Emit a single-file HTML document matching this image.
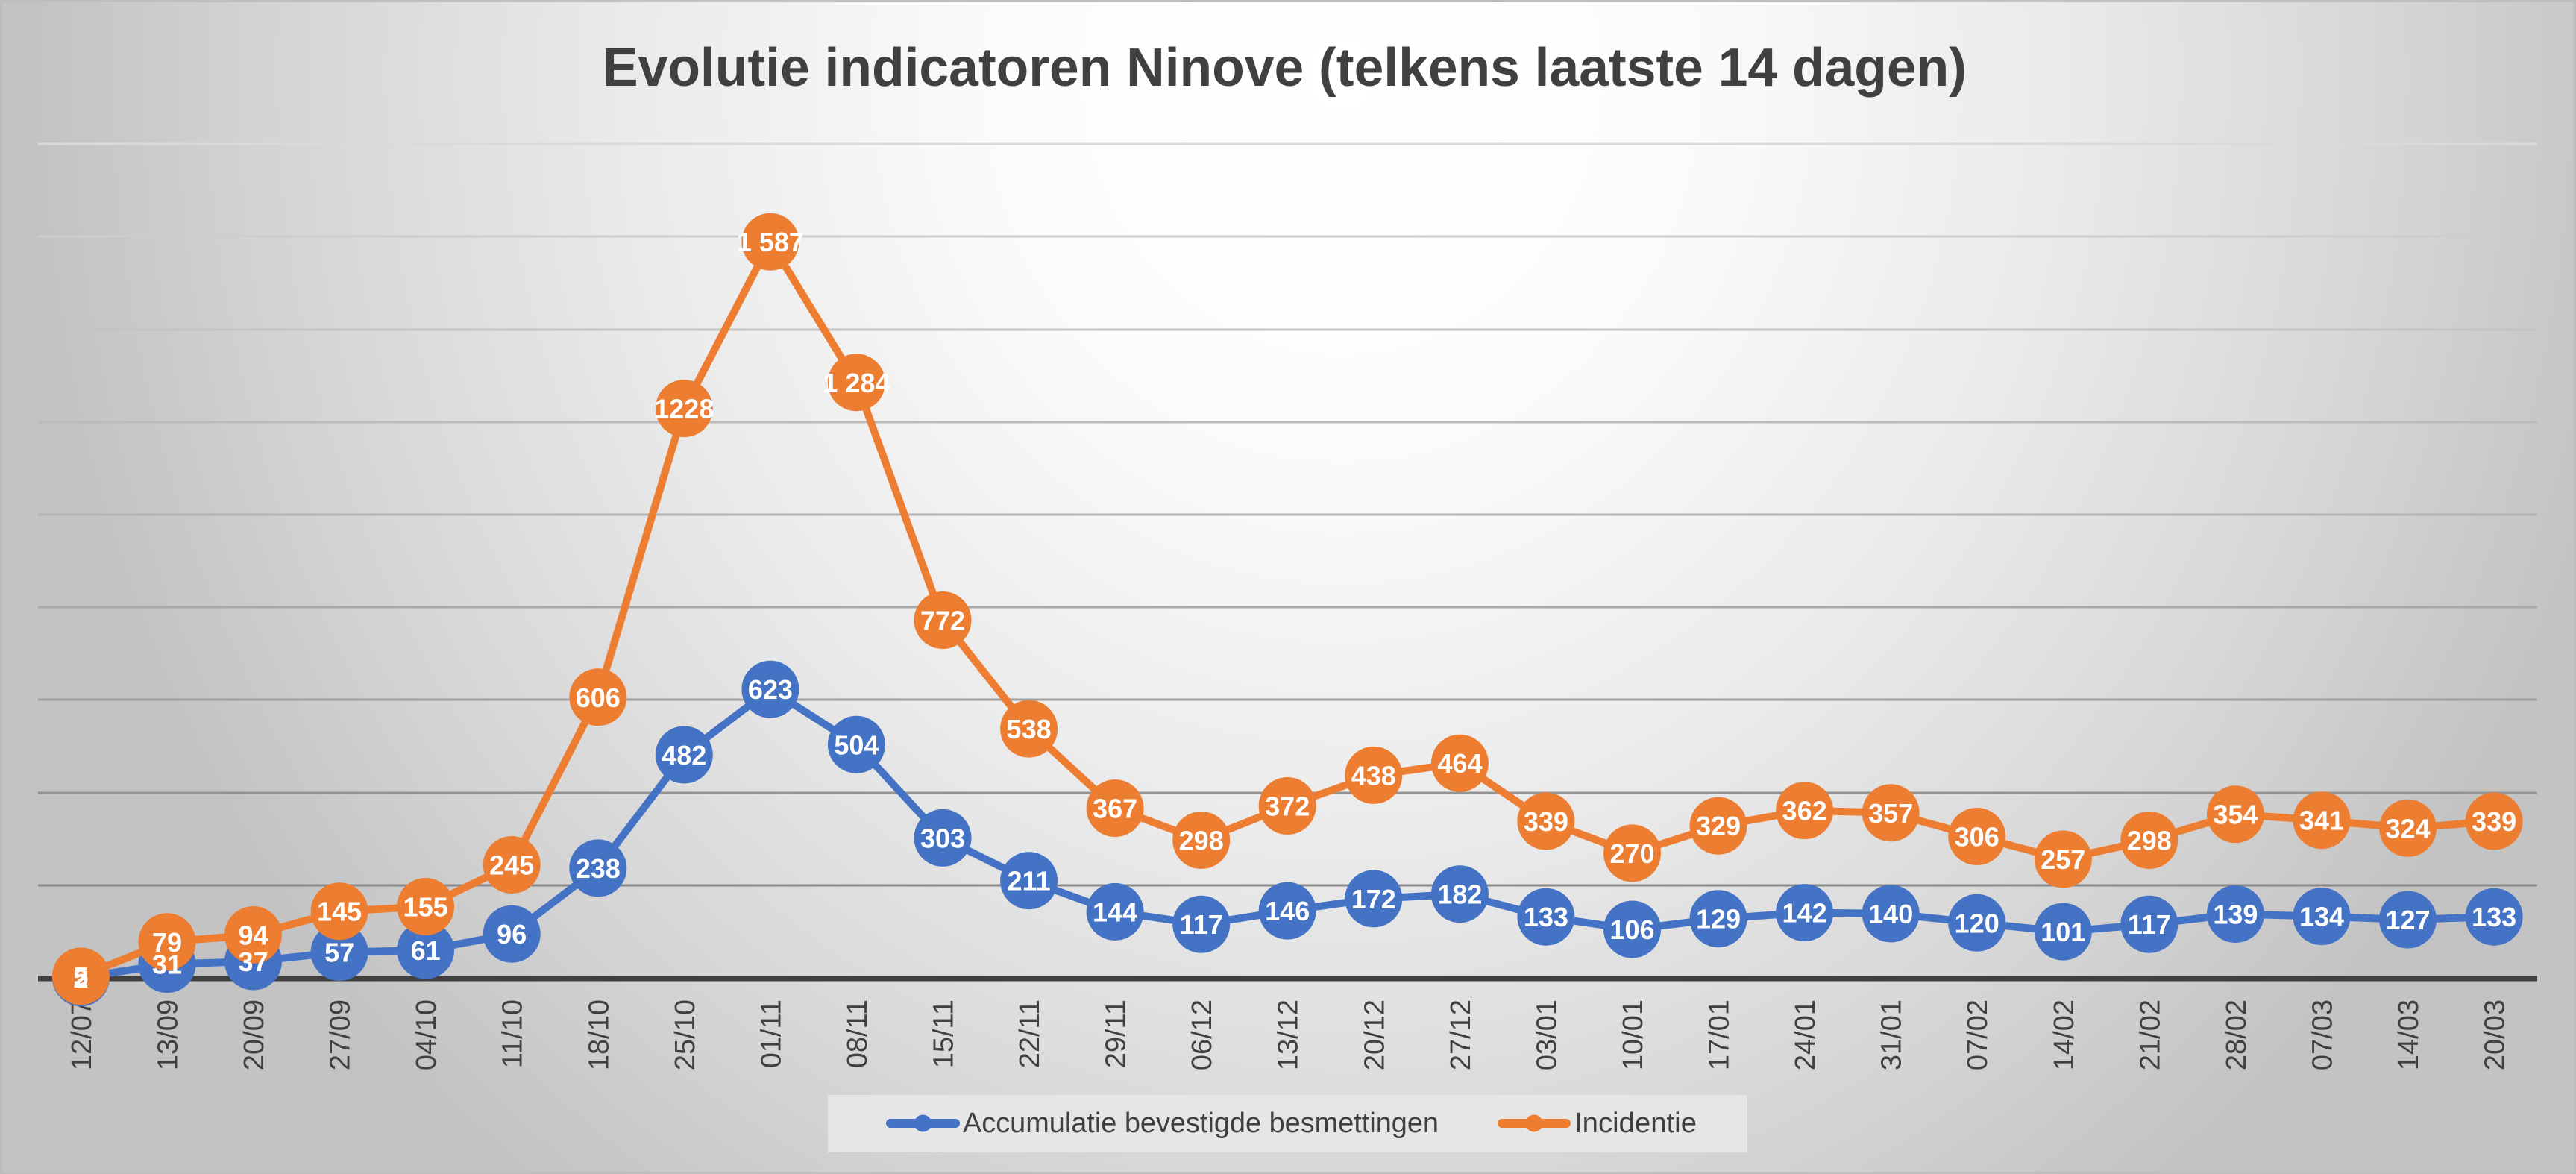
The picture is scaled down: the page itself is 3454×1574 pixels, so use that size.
<!DOCTYPE html>
<html><head><meta charset="utf-8"><style>
html,body{margin:0;padding:0;width:3454px;height:1574px;overflow:hidden;background:#e0e0e0}
svg{display:block}
</style></head><body>
<svg width="3454" height="1574" viewBox="0 0 3454 1574" xmlns="http://www.w3.org/2000/svg">
<defs>
<radialGradient id="bg" gradientUnits="userSpaceOnUse" cx="1800" cy="100" r="1750" gradientTransform="translate(1800,100) scale(1,1.08) translate(-1800,-100)">
<stop offset="0" stop-color="#ffffff"/>
<stop offset="0.25" stop-color="#fcfcfc"/>
<stop offset="0.55" stop-color="#eaeaea"/>
<stop offset="0.8" stop-color="#d6d6d6"/>
<stop offset="1" stop-color="#c3c3c3"/>
</radialGradient>
</defs>
<rect x="0" y="0" width="3454" height="1574" fill="url(#bg)"/>
<rect x="1.5" y="1.5" width="3451" height="1571" fill="none" stroke="#bdbdbd" stroke-width="3"/>

<text x="808" y="115" font-family="Liberation Sans, sans-serif" font-weight="bold" font-size="72" fill="#404040" textLength="1829" lengthAdjust="spacingAndGlyphs">Evolutie indicatoren Ninove (telkens laatste 14 dagen)</text>

<g stroke-width="3">
<line x1="51" y1="193" x2="3402" y2="193" stroke="#dadada"/>
<line x1="51" y1="317" x2="3402" y2="317" stroke="#cdcdcd"/>
<line x1="51" y1="442" x2="3402" y2="442" stroke="#c3c3c3"/>
<line x1="51" y1="566" x2="3402" y2="566" stroke="#bbbbbb"/>
<line x1="51" y1="690" x2="3402" y2="690" stroke="#b2b2b2"/>
<line x1="51" y1="814" x2="3402" y2="814" stroke="#a8a8a8"/>
<line x1="51" y1="938" x2="3402" y2="938" stroke="#9e9e9e"/>
<line x1="51" y1="1063" x2="3402" y2="1063" stroke="#939393"/>
<line x1="51" y1="1187" x2="3402" y2="1187" stroke="#898989"/>
</g>
<line x1="51" y1="1312" x2="3402" y2="1312" stroke="#404040" stroke-width="7"/>

<g font-family="Liberation Sans, sans-serif" font-size="38" fill="#404040" text-anchor="end">
<text transform="translate(121.9,1340) rotate(-90)">12/07</text>
<text transform="translate(237.5,1340) rotate(-90)">13/09</text>
<text transform="translate(353,1340) rotate(-90)">20/09</text>
<text transform="translate(468.6,1340) rotate(-90)">27/09</text>
<text transform="translate(584.1,1340) rotate(-90)">04/10</text>
<text transform="translate(699.7,1340) rotate(-90)">11/10</text>
<text transform="translate(815.3,1340) rotate(-90)">18/10</text>
<text transform="translate(930.8,1340) rotate(-90)">25/10</text>
<text transform="translate(1046.4,1340) rotate(-90)">01/11</text>
<text transform="translate(1161.9,1340) rotate(-90)">08/11</text>
<text transform="translate(1277.5,1340) rotate(-90)">15/11</text>
<text transform="translate(1393.1,1340) rotate(-90)">22/11</text>
<text transform="translate(1508.6,1340) rotate(-90)">29/11</text>
<text transform="translate(1624.2,1340) rotate(-90)">06/12</text>
<text transform="translate(1739.7,1340) rotate(-90)">13/12</text>
<text transform="translate(1855.3,1340) rotate(-90)">20/12</text>
<text transform="translate(1970.9,1340) rotate(-90)">27/12</text>
<text transform="translate(2086.4,1340) rotate(-90)">03/01</text>
<text transform="translate(2202,1340) rotate(-90)">10/01</text>
<text transform="translate(2317.5,1340) rotate(-90)">17/01</text>
<text transform="translate(2433.1,1340) rotate(-90)">24/01</text>
<text transform="translate(2548.7,1340) rotate(-90)">31/01</text>
<text transform="translate(2664.2,1340) rotate(-90)">07/02</text>
<text transform="translate(2779.8,1340) rotate(-90)">14/02</text>
<text transform="translate(2895.3,1340) rotate(-90)">21/02</text>
<text transform="translate(3010.9,1340) rotate(-90)">28/02</text>
<text transform="translate(3126.5,1340) rotate(-90)">07/03</text>
<text transform="translate(3242,1340) rotate(-90)">14/03</text>
<text transform="translate(3357.6,1340) rotate(-90)">20/03</text>
</g>

<!-- Blue series -->
<polyline fill="none" stroke="#4472c4" stroke-width="10" stroke-linejoin="round" points="108.4,1310.8 224,1292.7 339.5,1289 455.1,1276.5 570.6,1274 686.2,1252.2 801.8,1163.9 917.3,1012 1032.9,924.2 1148.4,998.3 1264,1123.4 1379.6,1180.7 1495.1,1222.4 1610.7,1239.2 1726.2,1221.1 1841.8,1204.9 1957.4,1198.7 2072.9,1229.2 2188.5,1246 2304,1231.7 2419.6,1223.6 2535.2,1224.9 2650.7,1237.3 2766.3,1249.1 2881.8,1239.2 2997.4,1225.5 3113,1228.6 3228.5,1233 3344.1,1229.2"/>
<g fill="#4472c4">
<circle cx="108.4" cy="1310.8" r="38.5"/><circle cx="224" cy="1292.7" r="38.5"/><circle cx="339.5" cy="1289" r="38.5"/><circle cx="455.1" cy="1276.5" r="38.5"/><circle cx="570.6" cy="1274" r="38.5"/><circle cx="686.2" cy="1252.2" r="38.5"/><circle cx="801.8" cy="1163.9" r="38.5"/><circle cx="917.3" cy="1012" r="38.5"/><circle cx="1032.9" cy="924.2" r="38.5"/><circle cx="1148.4" cy="998.3" r="38.5"/><circle cx="1264" cy="1123.4" r="38.5"/><circle cx="1379.6" cy="1180.7" r="38.5"/><circle cx="1495.1" cy="1222.4" r="38.5"/><circle cx="1610.7" cy="1239.2" r="38.5"/><circle cx="1726.2" cy="1221.1" r="38.5"/><circle cx="1841.8" cy="1204.9" r="38.5"/><circle cx="1957.4" cy="1198.7" r="38.5"/><circle cx="2072.9" cy="1229.2" r="38.5"/><circle cx="2188.5" cy="1246" r="38.5"/><circle cx="2304" cy="1231.7" r="38.5"/><circle cx="2419.6" cy="1223.6" r="38.5"/><circle cx="2535.2" cy="1224.9" r="38.5"/><circle cx="2650.7" cy="1237.3" r="38.5"/><circle cx="2766.3" cy="1249.1" r="38.5"/><circle cx="2881.8" cy="1239.2" r="38.5"/><circle cx="2997.4" cy="1225.5" r="38.5"/><circle cx="3113" cy="1228.6" r="38.5"/><circle cx="3228.5" cy="1233" r="38.5"/><circle cx="3344.1" cy="1229.2" r="38.5"/>
</g>

<!-- Orange series -->
<polyline fill="none" stroke="#ed7d31" stroke-width="10" stroke-linejoin="round" points="108.4,1308.9 224,1262.8 339.5,1253.5 455.1,1221.7 570.6,1215.5 686.2,1159.5 801.8,934.8 917.3,547.6 1032.9,324.2 1148.4,512.8 1264,831.5 1379.6,977.1 1495.1,1083.6 1610.7,1126.5 1726.2,1080.5 1841.8,1039.4 1957.4,1023.2 2072.9,1101 2188.5,1143.9 2304,1107.2 2419.6,1086.7 2535.2,1089.8 2650.7,1121.5 2766.3,1152 2881.8,1126.5 2997.4,1091.7 3113,1099.7 3228.5,1110.3 3344.1,1101"/>
<g fill="#ed7d31">
<circle cx="108.4" cy="1308.9" r="38.5"/><circle cx="224" cy="1262.8" r="38.5"/><circle cx="339.5" cy="1253.5" r="38.5"/><circle cx="455.1" cy="1221.7" r="38.5"/><circle cx="570.6" cy="1215.5" r="38.5"/><circle cx="686.2" cy="1159.5" r="38.5"/><circle cx="801.8" cy="934.8" r="38.5"/><circle cx="917.3" cy="547.6" r="38.5"/><circle cx="1032.9" cy="324.2" r="38.5"/><circle cx="1148.4" cy="512.8" r="38.5"/><circle cx="1264" cy="831.5" r="38.5"/><circle cx="1379.6" cy="977.1" r="38.5"/><circle cx="1495.1" cy="1083.6" r="38.5"/><circle cx="1610.7" cy="1126.5" r="38.5"/><circle cx="1726.2" cy="1080.5" r="38.5"/><circle cx="1841.8" cy="1039.4" r="38.5"/><circle cx="1957.4" cy="1023.2" r="38.5"/><circle cx="2072.9" cy="1101" r="38.5"/><circle cx="2188.5" cy="1143.9" r="38.5"/><circle cx="2304" cy="1107.2" r="38.5"/><circle cx="2419.6" cy="1086.7" r="38.5"/><circle cx="2535.2" cy="1089.8" r="38.5"/><circle cx="2650.7" cy="1121.5" r="38.5"/><circle cx="2766.3" cy="1152" r="38.5"/><circle cx="2881.8" cy="1126.5" r="38.5"/><circle cx="2997.4" cy="1091.7" r="38.5"/><circle cx="3113" cy="1099.7" r="38.5"/><circle cx="3228.5" cy="1110.3" r="38.5"/><circle cx="3344.1" cy="1101" r="38.5"/>
</g>

<!-- Data labels -->
<g font-family="Liberation Sans, sans-serif" font-weight="bold" font-size="36" fill="#ffffff" text-anchor="middle">
<text x="108.4" y="1323.8">2</text><text x="224" y="1305.7">31</text><text x="339.5" y="1302">37</text><text x="455.1" y="1289.5">57</text><text x="570.6" y="1287">61</text><text x="686.2" y="1265.2">96</text><text x="801.8" y="1176.9">238</text><text x="917.3" y="1025">482</text><text x="1032.9" y="937.2">623</text><text x="1148.4" y="1011.3">504</text><text x="1264" y="1136.4">303</text><text x="1379.6" y="1193.7">211</text><text x="1495.1" y="1235.4">144</text><text x="1610.7" y="1252.2">117</text><text x="1726.2" y="1234.1">146</text><text x="1841.8" y="1217.9">172</text><text x="1957.4" y="1211.7">182</text><text x="2072.9" y="1242.2">133</text><text x="2188.5" y="1259">106</text><text x="2304" y="1244.7">129</text><text x="2419.6" y="1236.6">142</text><text x="2535.2" y="1237.9">140</text><text x="2650.7" y="1250.3">120</text><text x="2766.3" y="1262.1">101</text><text x="2881.8" y="1252.2">117</text><text x="2997.4" y="1238.5">139</text><text x="3113" y="1241.6">134</text><text x="3228.5" y="1246">127</text><text x="3344.1" y="1242.2">133</text>
<text x="108.4" y="1321.9">5</text><text x="224" y="1275.8">79</text><text x="339.5" y="1266.5">94</text><text x="455.1" y="1234.7">145</text><text x="570.6" y="1228.5">155</text><text x="686.2" y="1172.5">245</text><text x="801.8" y="947.8">606</text><text x="917.3" y="560.6">1228</text><text x="1032.9" y="337.2">1 587</text><text x="1148.4" y="525.8">1 284</text><text x="1264" y="844.5">772</text><text x="1379.6" y="990.1">538</text><text x="1495.1" y="1096.6">367</text><text x="1610.7" y="1139.5">298</text><text x="1726.2" y="1093.5">372</text><text x="1841.8" y="1052.4">438</text><text x="1957.4" y="1036.2">464</text><text x="2072.9" y="1114">339</text><text x="2188.5" y="1156.9">270</text><text x="2304" y="1120.2">329</text><text x="2419.6" y="1099.7">362</text><text x="2535.2" y="1102.8">357</text><text x="2650.7" y="1134.5">306</text><text x="2766.3" y="1165">257</text><text x="2881.8" y="1139.5">298</text><text x="2997.4" y="1104.7">354</text><text x="3113" y="1112.7">341</text><text x="3228.5" y="1123.3">324</text><text x="3344.1" y="1114">339</text>
</g>

<!-- Legend -->
<rect x="1110" y="1468" width="1233" height="77" fill="#e6e6e6"/>
<line x1="1194" y1="1506" x2="1281" y2="1506" stroke="#4472c4" stroke-width="12" stroke-linecap="round"/>
<circle cx="1237.5" cy="1506" r="11.5" fill="#4472c4"/>
<text x="1291" y="1518" font-family="Liberation Sans, sans-serif" font-size="38" fill="#404040" textLength="638" lengthAdjust="spacingAndGlyphs">Accumulatie bevestigde besmettingen</text>
<line x1="2014" y1="1506" x2="2100" y2="1506" stroke="#ed7d31" stroke-width="12" stroke-linecap="round"/>
<circle cx="2057" cy="1506" r="11.5" fill="#ed7d31"/>
<text x="2111" y="1518" font-family="Liberation Sans, sans-serif" font-size="38" fill="#404040" textLength="164" lengthAdjust="spacingAndGlyphs">Incidentie</text>
</svg>
</body></html>
